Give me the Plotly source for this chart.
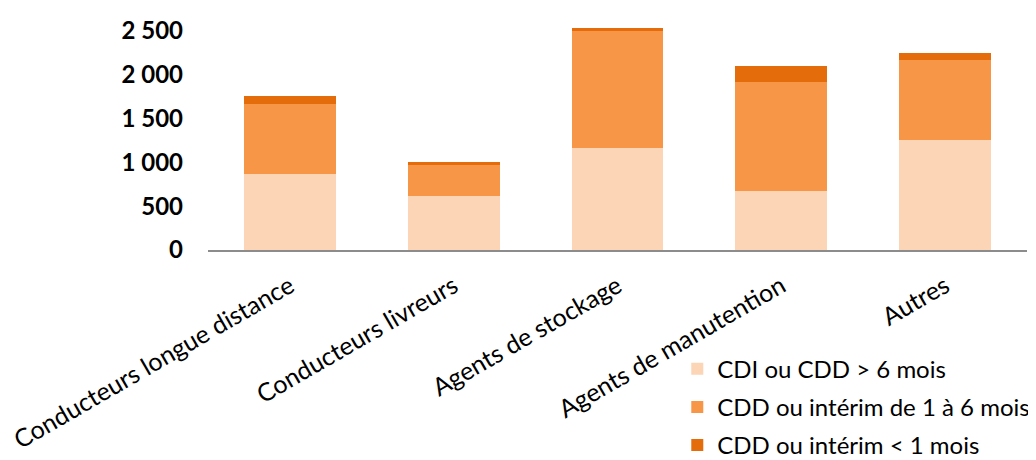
import plotly.graph_objects as go

categories = ["Conducteurs longue distance", "Conducteurs livreurs", "Agents de stockage",
              "Agents de manutention", "Autres"]
cdi = [870, 620, 1160, 670, 1250]
cdd_1_6 = [790, 350, 1330, 1240, 915]
cdd_lt1 = [100, 30, 40, 185, 75]
series_names = ["CDI ou CDD > 6 mois", "CDD ou intérim de 1 à 6 mois", "CDD ou intérim < 1 mois"]
tick_vals = [0, 500, 1000, 1500, 2000, 2500]
tick_text = ["0", "500", "1 000", "1 500", "2 000", "2 500"]

colors = ["#FBD5B5", "#F79646", "#E46C0A"]
font_family = "Lato, 'Open Sans', sans-serif"

fig = go.Figure()
for i, (name, vals, col) in enumerate(zip(series_names, [cdi, cdd_1_6, cdd_lt1], colors)):
    fig.add_trace(go.Bar(x=categories, y=vals, name=name, legendgroup=f"g{i}",
                         marker=dict(color=col, line=dict(width=0))))

# The page body has an 8px margin, so the figure is sized to fit the 1036x460 window.
fig.update_layout(
    barmode="stack",
    bargap=0.44,
    width=1028, height=452,
    margin=dict(l=200, r=9, t=12, b=209.5, autoexpand=False),
    plot_bgcolor="white", paper_bgcolor="white",
    font=dict(family=font_family, size=24, color="#000000"),
    legend=dict(x=0.573, xanchor="left", y=-0.42, yanchor="top", traceorder="grouped",
                font=dict(size=24, family=font_family), bgcolor="rgba(0,0,0,0)",
                itemwidth=30, tracegroupgap=4),
    showlegend=True,
)
fig.update_xaxes(showline=True, linecolor="#8C8C8C", linewidth=2, ticks="", tickangle=-30,
                 tickfont=dict(size=25, family=font_family), showgrid=False,
                 automargin=False, ticklabelstandoff=10)
fig.update_yaxes(range=[0, 2620], tickvals=tick_vals, ticktext=tick_text, showgrid=False,
                 zeroline=False, showline=False, ticks="", ticklabelstandoff=24,
                 automargin=False,
                 tickfont=dict(size=24, family=font_family, weight="bold"))

fig.write_html("out.html")
